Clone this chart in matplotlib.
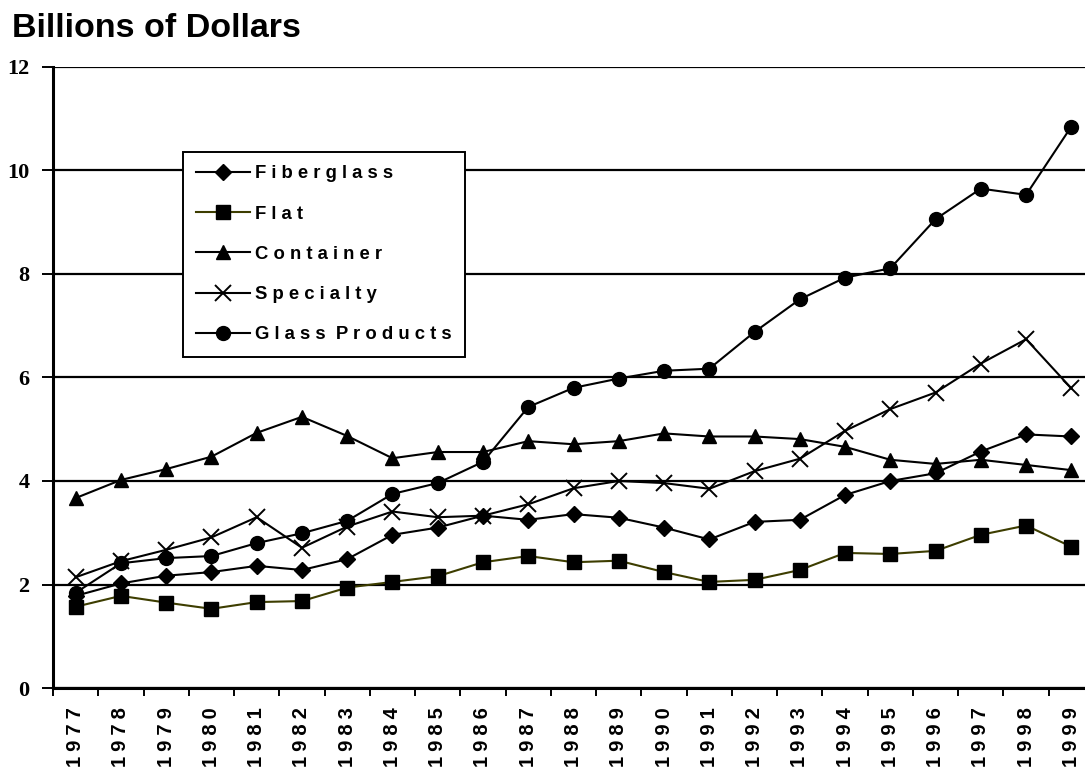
import numpy as np
import matplotlib
matplotlib.use("Agg")
import matplotlib.pyplot as plt
from matplotlib.ticker import FixedLocator, NullFormatter, FixedFormatter

years = list(range(1977, 2000))

fiberglass = [1.78, 2.02, 2.17, 2.24, 2.36, 2.28, 2.49, 2.96, 3.10, 3.33, 3.25,
              3.36, 3.29, 3.10, 2.87, 3.21, 3.25, 3.73, 4.00, 4.15, 4.57, 4.90, 4.86]
flat = [1.57, 1.78, 1.65, 1.53, 1.66, 1.68, 1.94, 2.05, 2.16, 2.43, 2.55,
        2.43, 2.46, 2.24, 2.05, 2.09, 2.28, 2.61, 2.59, 2.65, 2.96, 3.14, 2.73]
container = [3.67, 4.02, 4.23, 4.47, 4.93, 5.24, 4.87, 4.44, 4.56, 4.56, 4.77,
             4.71, 4.77, 4.92, 4.86, 4.86, 4.81, 4.66, 4.41, 4.33, 4.41, 4.31, 4.21]
specialty = [2.14, 2.45, 2.67, 2.91, 3.30, 2.71, 3.12, 3.41, 3.30, 3.33, 3.55,
             3.86, 4.00, 3.96, 3.85, 4.19, 4.43, 4.97, 5.39, 5.71, 6.27, 6.74, 5.79]
glass_products = [1.84, 2.41, 2.51, 2.55, 2.80, 2.99, 3.23, 3.75, 3.96, 4.37, 5.43,
                  5.80, 5.98, 6.13, 6.17, 6.88, 7.51, 7.93, 8.11, 9.06, 9.65, 9.53, 10.85]

legend_labels = ["F i b e r g l a s s", "F l a t", "C o n t a i n e r",
                 "S p e c i a l t y", "G l a s s  P r o d u c t s"]

W, H = 1085, 771
fig = plt.figure(figsize=(W / 100, H / 100), dpi=100)
ax = fig.add_axes([53 / W, (H - 688) / H, (1094 - 53) / W, (688 - 67) / H])

x = np.arange(len(years))
lw = 1.5
ax.plot(x, fiberglass, color="black", lw=lw, marker="D", ms=8, label=legend_labels[0], zorder=3)
ax.plot(x, flat, color="#3d3d00", lw=lw, marker="s", ms=10, mfc="black", mec="black",
        label=legend_labels[1], zorder=3)
ax.plot(x, container, color="black", lw=lw, marker="^", ms=10, label=legend_labels[2], zorder=3)
ax.plot(x, specialty, color="black", lw=lw, marker="x", ms=11, mew=1.4, label=legend_labels[3], zorder=3)
ax.plot(x, glass_products, color="black", lw=lw, marker="o", ms=10, label=legend_labels[4], zorder=3)

ax.set_xlim(-0.5, len(years) - 0.5)
ax.set_ylim(0, 12)
ax.set_yticks(range(0, 13, 2))
ax.yaxis.grid(True, color="black", lw=1.6)
ax.set_axisbelow(True)

# years drawn with small gaps between digits, like the original
year_labels = ["\u2005".join(str(y)) for y in years]
ax.xaxis.set_major_locator(FixedLocator(np.arange(-0.5, len(years), 1.0)))
ax.xaxis.set_major_formatter(NullFormatter())
ax.xaxis.set_minor_locator(FixedLocator(x))
ax.xaxis.set_minor_formatter(FixedFormatter(year_labels))
ax.tick_params(axis="x", which="major", direction="out", length=6, width=1.4)
ax.tick_params(axis="x", which="minor", length=0, pad=14)
ax.tick_params(axis="y", direction="out", length=8, width=1.4, pad=9)

for lab in ax.xaxis.get_minorticklabels():
    lab.set_rotation(90)
    lab.set_fontfamily(["Liberation Sans", "DejaVu Sans"])
    lab.set_fontweight("bold")
    lab.set_fontsize(14.5)
for lab in ax.get_yticklabels():
    lab.set_fontfamily("Liberation Serif")
    lab.set_fontweight("bold")
    lab.set_fontsize(16)

for s in ["top", "right"]:
    ax.spines[s].set_visible(False)
for s in ["left", "bottom"]:
    ax.spines[s].set_linewidth(2.2)

leg = ax.legend(loc="upper left", bbox_to_anchor=(183 / W, 1 - 152 / H),
                bbox_transform=fig.transFigure, borderaxespad=0, fancybox=False,
                framealpha=1, edgecolor="black", handlelength=2.9, handletextpad=0.3,
                labelspacing=1.26, borderpad=0.72,
                prop={"family": "Liberation Sans", "weight": "bold", "size": 13.3})
leg.get_frame().set_linewidth(1.4)
leg.set_zorder(5)

fig.text(12 / W, 1 - 37 / H, "Billions of Dollars", fontsize=24.5, fontweight="bold",
         family="Liberation Sans", va="baseline", ha="left")

fig.savefig("out.png", dpi=100)
